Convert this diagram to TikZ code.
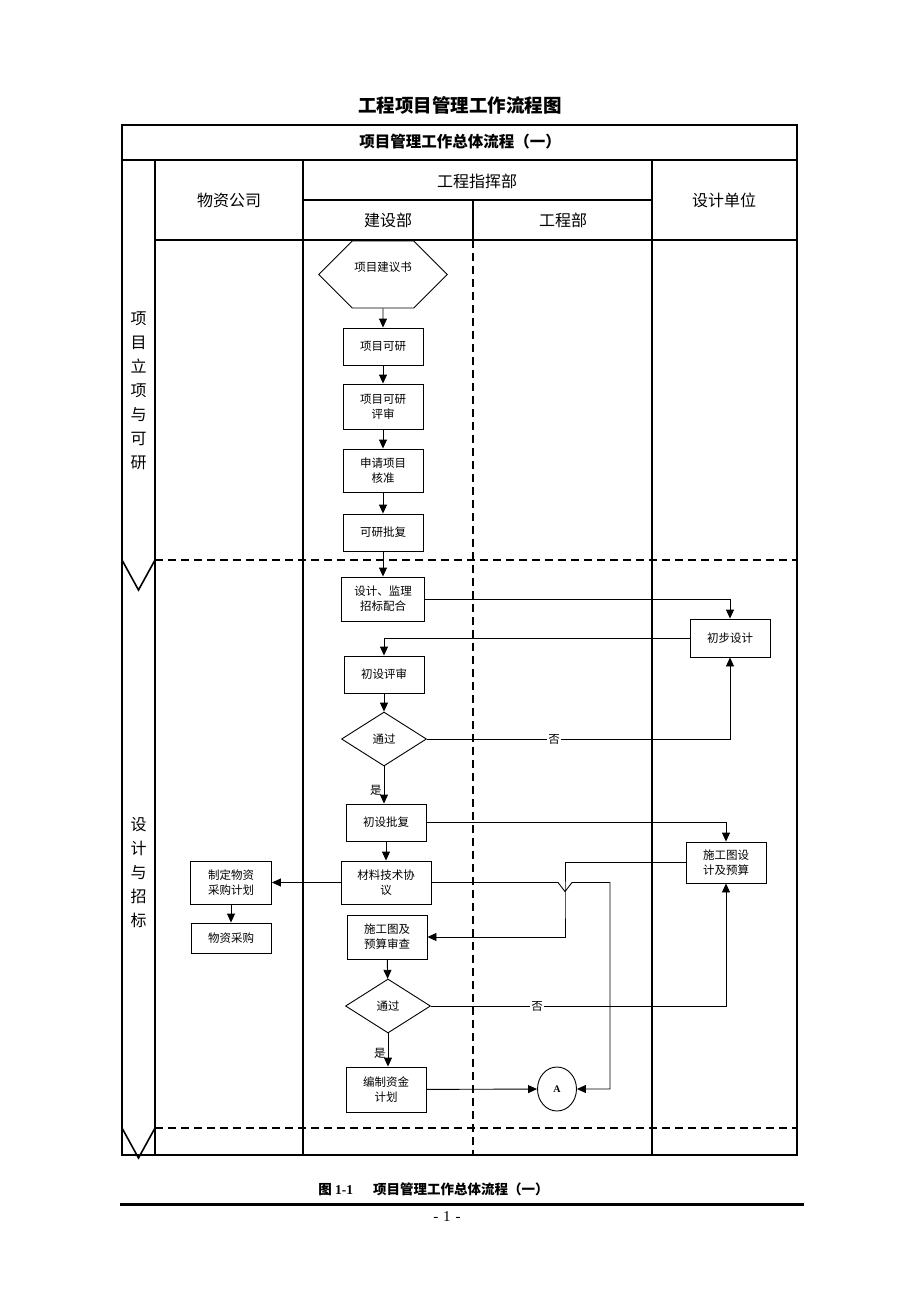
\documentclass[tikz,border=0pt]{standalone}
\usepackage{fontspec}
\setmainfont{Liberation Serif}
\newfontfamily\cjk{Noto Sans CJK SC}
\usetikzlibrary{shapes.geometric,shapes.symbols,arrows.meta}

\begin{document}
\begin{tikzpicture}[x=1pt, y=-1pt, line width=0.9pt, >={Triangle[length=9pt,width=8pt]}]

\tikzstyle{every node}=[font=\cjk\fontsize{11.5}{15}\selectfont, align=center, inner sep=2pt]
\tikzstyle{box}=[draw, minimum width=80pt, minimum height=37pt]
\tikzstyle{check}=[draw, diamond, minimum width=85pt, minimum height=54pt, inner sep=1pt]
\tikzstyle{head}=[font=\cjk\fontsize{16}{18}\selectfont]
\tikzstyle{stage}=[font=\cjk\fontsize{16}{24}\selectfont]
\tikzstyle{frame}=[line width=1.6pt]
\tikzstyle{lane}=[line width=1.6pt, dash pattern=on 8pt off 5pt]

\path[use as bounding box, fill=white] (0,0) rectangle (920,1302);

% page title and table frame
\node[font=\cjk\bfseries\fontsize{18.5}{20}\selectfont] (title) at (460,105) {工程项目管理工作流程图};
\draw[frame, line width=2pt] (122,125) rectangle (797,1155);
\draw[frame] (122,160) -- (797,160);
\draw[frame] (155,160) -- (155,1155);
\draw[frame] (303,160) -- (303,1155);
\draw[frame] (652,160) -- (652,1155);
\draw[frame] (303,200) -- (652,200);
\draw[frame] (473,200) -- (473,240);
\draw[frame] (155,240) -- (797,240);
\draw[lane] (473,240) -- (473,1155);
\draw[lane] (155,560) -- (797,560);
\draw[lane] (155,1128) -- (797,1128);
\draw[frame] (122,560) -- (138.5,590) -- (155,560);
\draw[frame] (122,1128) -- (138.5,1158) -- (155,1128);

\node[font=\cjk\bfseries\fontsize{15.5}{18}\selectfont] (sub) at (460,142) {项目管理工作总体流程（一）};
\node[head] (wzgs) at (229,200) {物资公司};
\node[head] (zhb) at (477,181) {工程指挥部};
\node[head] (jsb) at (388,220) {建设部};
\node[head] (gcb) at (563,220) {工程部};
\node[head] (sjdw) at (724,200) {设计单位};
\node[stage] (st1) at (138.5,391) {项\\目\\立\\项\\与\\可\\研};
\node[stage] (st2) at (138.5,873) {设\\计\\与\\招\\标};

% flow nodes
\node[draw, signal, signal to=east and west, minimum width=128pt, minimum height=67pt] (jys) at (383,274.5) {项目建议书\\\mbox{}};
\node[box] (kx) at (383,346.5) {项目可研};
\node[box, minimum height=45pt] (kxps) at (383,406.5) {项目可研\\评审};
\node[box, minimum height=43pt] (hz) at (383,470.5) {申请项目\\核准};
\node[box] (kxpf) at (383,532.5) {可研批复};
\node[box, minimum width=83pt, minimum height=44pt] (zb) at (383,599) {设计、监理\\招标配合};
\node[box, minimum height=38pt] (cbsj) at (730,638) {初步设计};
\node[box] (csps) at (384,674.5) {初设评审};
\node[check] (tg1) at (384,739) {通过};
\node[box] (cspf) at (386,822.5) {初设批复};
\node[box, minimum height=41pt] (sgt) at (726,862.5) {施工图设\\计及预算};
\node[box, minimum width=90pt, minimum height=43pt] (cl) at (386,882.5) {材料技术协\\议};
\node[box, minimum width=81pt, minimum height=43pt] (cgjh) at (231,882.5) {制定物资\\采购计划};
\node[box, minimum height=30pt] (cg) at (231,938) {物资采购};
\node[box, minimum height=44pt] (scsc) at (387,937) {施工图及\\预算审查};
\node[check] (tg2) at (388,1006) {通过};
\node[box, minimum height=45pt] (zj) at (386,1089.5) {编制资金\\计划};
\node[draw, ellipse, minimum width=39pt, minimum height=44pt, font=\rmfamily\bfseries\fontsize{10}{12}\selectfont] (A) at (557,1089) {A};

\coordinate (jog) at (565,900);
\coordinate (hop) at (565,882.5);
\coordinate (turn) at (610,882.5);

% connectors
\draw[->] (jys) -- (kx);
\draw[->] (kx) -- (kxps);
\draw[->] (kxps) -- (hz);
\draw[->] (hz) -- (kxpf);
\draw[->] (kxpf) -- (zb);
\draw[->] (zb) -| (cbsj);
\draw[->] (cbsj) -| (csps);
\draw[->] (csps) -- (tg1);
\draw[->] (tg1) -| node[pos=0.21, fill=white, inner sep=1pt]{否} (cbsj);
\draw[->] (tg1) -- node[left, pos=0.65]{是} (tg1 |- cspf.north);
\draw[->] (cspf) -| (sgt);
\draw[->] (cspf) -- (cl);
\draw[->] (cl) -- (cgjh);
\draw[->] (cgjh) -- (cg);
\draw[->] (sgt) -| (jog) |- (scsc);
\draw[->] (cl) -- ([xshift=-7pt]hop) -- ([yshift=-9pt]hop) -- ([xshift=7pt]hop) -- (turn) |- (A);
\draw[->] (scsc) -- (tg2);
\draw[->] (tg2) -| node[pos=0.18, fill=white, inner sep=1pt]{否} (sgt);
\draw[->] (tg2) -- node[left, pos=0.6]{是} (tg2 |- zj.north);
\draw[->] (zj) -- (A);

% caption
\node[font=\bfseries\fontsize{13.5}{16}\selectfont] (cap) at (433.5,1189) {{\cjk 图} 1-1\hspace{20pt}{\cjk 项目管理工作总体流程（一）}};
\draw[line width=3pt] (120,1204) -- (804,1204);
\node[font=\rmfamily\fontsize{15}{17}\selectfont] (pg) at (447,1217) {-\hspace{5pt}1\hspace{5pt}-};

\end{tikzpicture}
\end{document}
